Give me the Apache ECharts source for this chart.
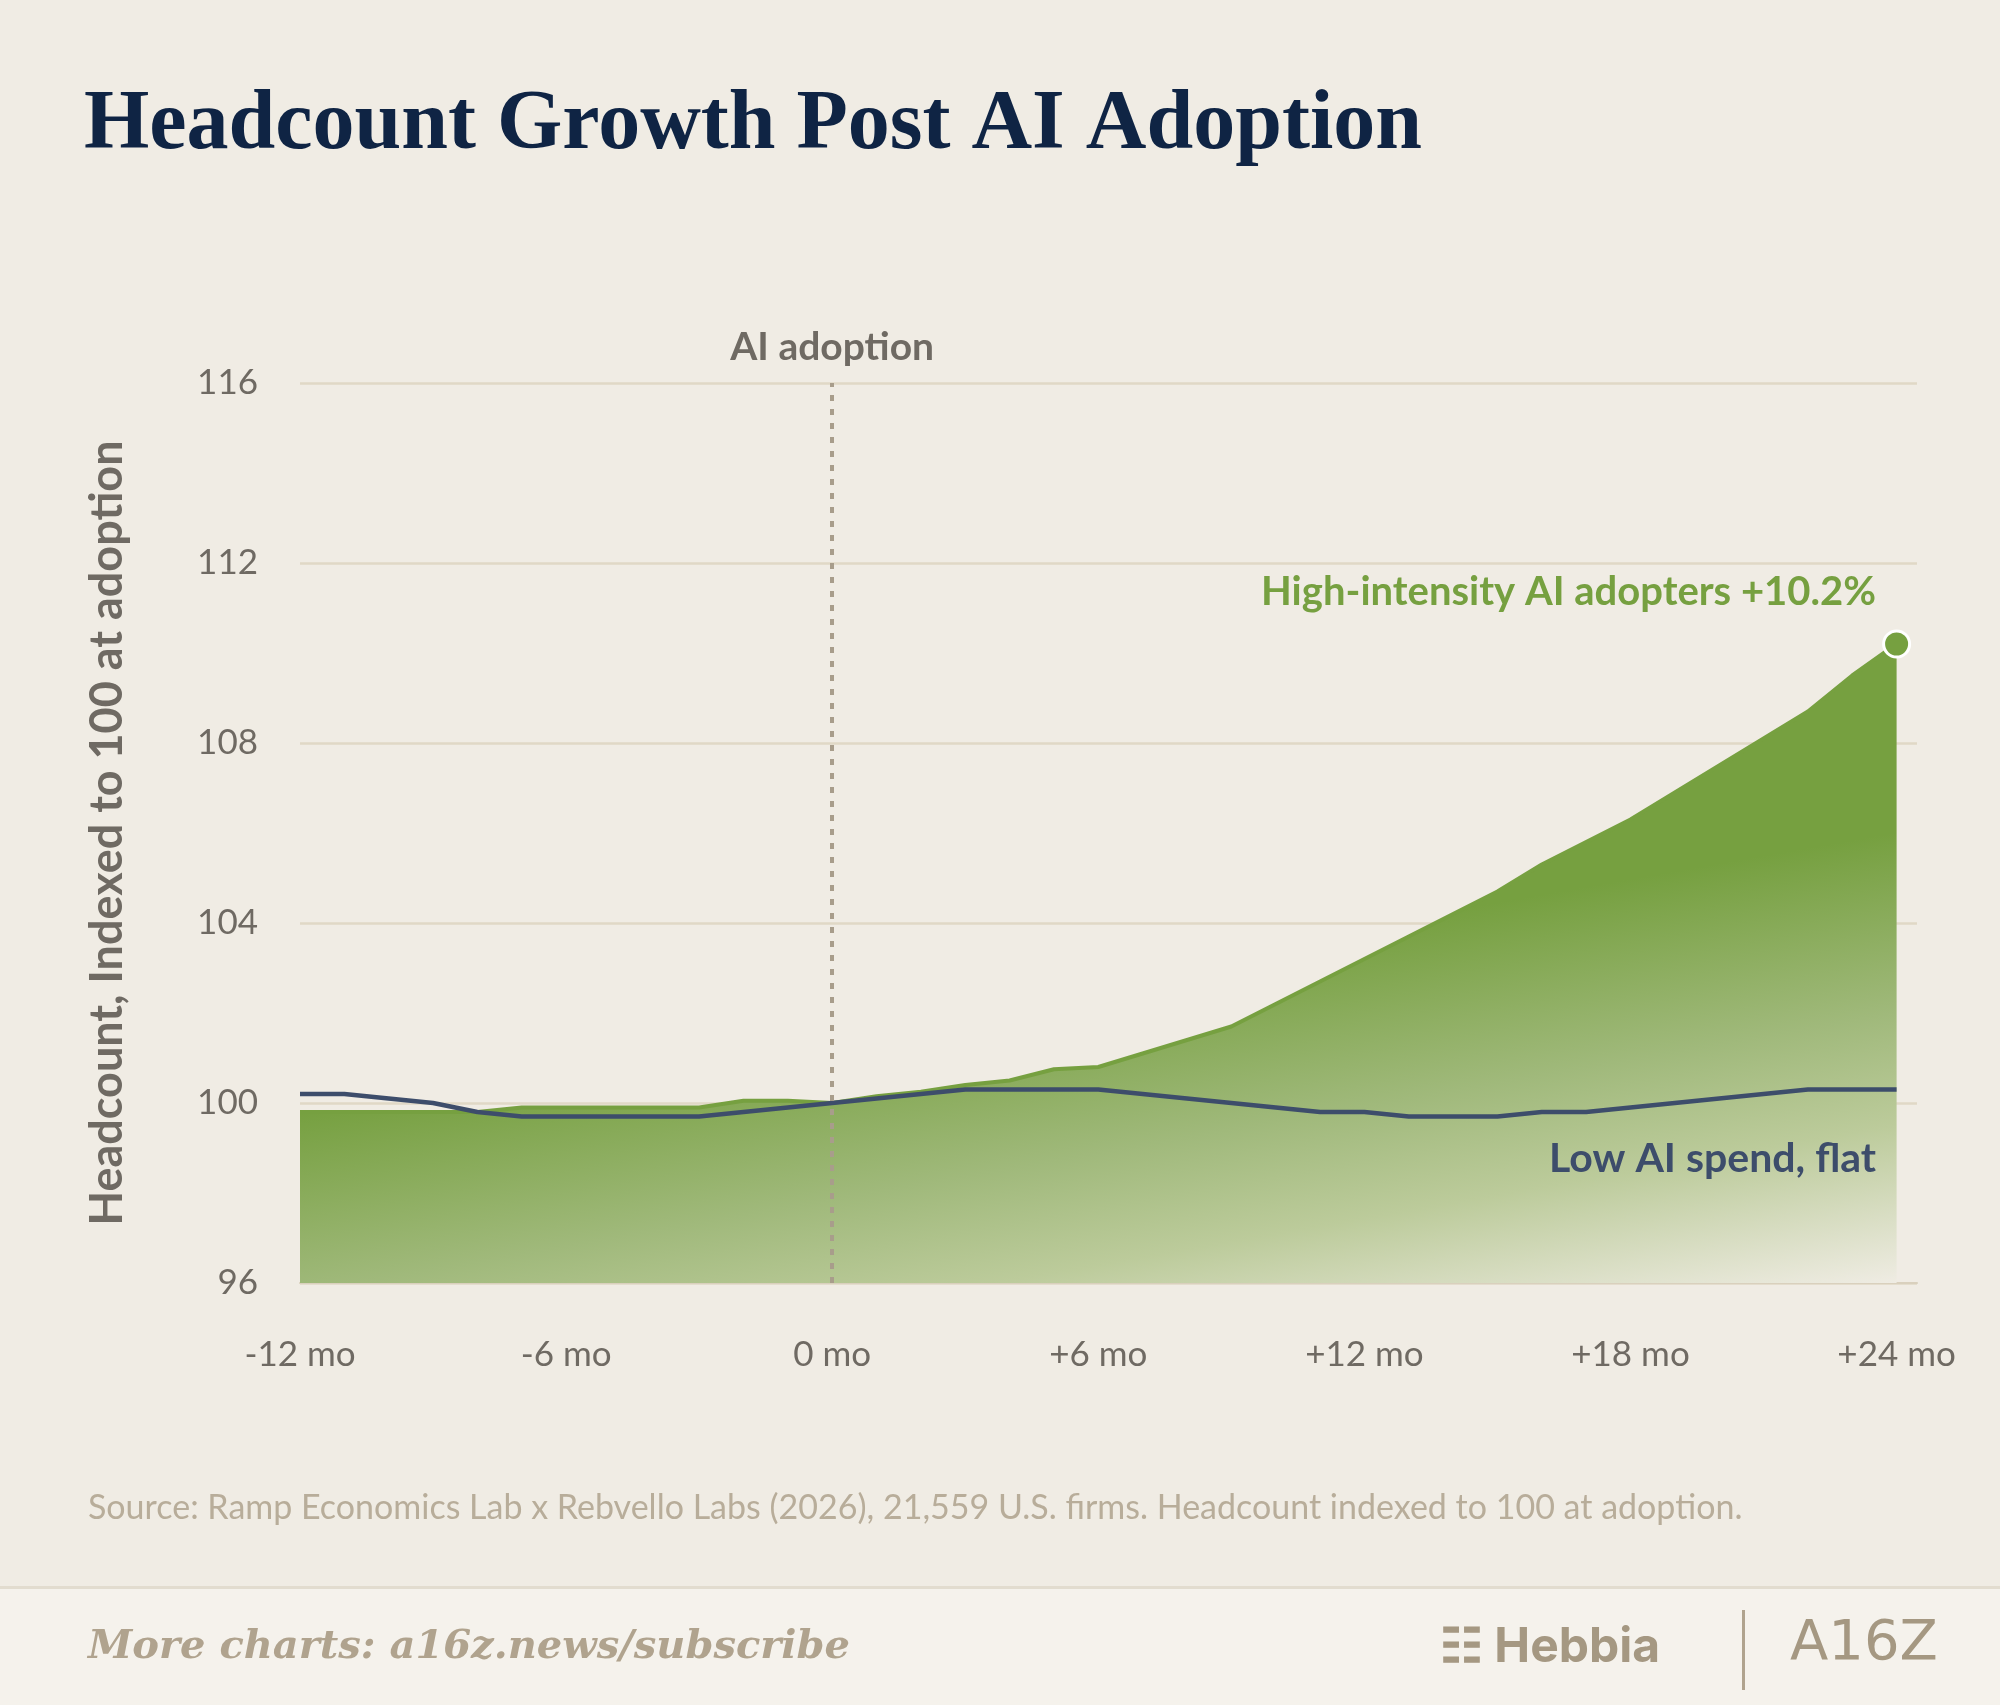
<!DOCTYPE html>
<html><head><meta charset="utf-8">
<script src="https://cdn.jsdelivr.net/npm/echarts@6/dist/echarts.min.js"></script>
<style>html,body{margin:0;background:#f0ece4}#c{width:2000px;height:1705px}</style>
</head><body><div id="c"></div>
<script>
// months relative to adoption
var months = [];
for (var m = -12; m <= 24; m++) months.push(m);
var highAdopters = [99.8,99.8,99.8,99.8,99.8,99.9,99.9,99.9,99.9,99.9,100.05,100.05,100.0,
  100.15,100.25,100.4,100.5,100.75,100.8,101.1,101.4,101.7,102.2,102.7,103.2,103.7,104.2,104.7,
  105.3,105.8,106.3,106.9,107.5,108.1,108.7,109.5,110.2];
var lowSpend = [100.2,100.2,100.1,100.0,99.8,99.7,99.7,99.7,99.7,99.7,99.8,99.9,100.0,
  100.1,100.2,100.3,100.3,100.3,100.3,100.2,100.1,100.0,99.9,99.8,99.8,99.7,99.7,99.7,
  99.8,99.8,99.9,100.0,100.1,100.2,100.3,100.3,100.3];
var yTicks = [96, 100, 104, 108, 112, 116];

function pairs(arr) { return months.map(function (m, i) { return [m, arr[i]]; }); }

var chart = echarts.init(document.getElementById("c"));
var green = "#76a040", navy = "#3d4d6b";

chart.setOption({
  backgroundColor: "#f0ece4",
  animation: false,
  grid: { left: 300, right: 83, top: 383, bottom: 422 },
  xAxis: {
    type: "value", min: -12, max: 24.46, interval: 6,
    axisLine: { show: true, lineStyle: { color: "#d9d0bd", width: 2 } },
    axisTick: { show: false }, splitLine: { show: false },
    axisLabel: {
      margin: 54, fontSize: 35, color: "#6f6a63", fontFamily: "Lato", showMaxLabel: false,
      formatter: function (v) { return v === 0 ? "0 mo" : (v > 0 ? "+" + v : v) + " mo"; }
    }
  },
  yAxis: {
    type: "value", min: yTicks[0], max: yTicks[yTicks.length - 1], interval: 4,
    name: "Headcount, Indexed to 100 at adoption", nameLocation: "middle", nameGap: 170,
    nameTextStyle: { fontSize: 45, fontWeight: "bold", color: "#6f6a63", fontFamily: "Lato" },
    axisLine: { show: false }, axisTick: { show: false },
    splitLine: { lineStyle: { color: "#e0d8c6", width: 2.5 } },
    axisLabel: { margin: 42, fontSize: 35, color: "#6f6a63", fontFamily: "Lato" }
  },
  series: [
    {
      name: "High-intensity AI adopters", type: "line", data: pairs(highAdopters),
      symbol: "none", lineStyle: { color: green, width: 4 },
      areaStyle: {
        opacity: 1,
        color: new echarts.graphic.LinearGradient(0, 0.733, 0.048, 1.417, [
          { offset: 0, color: "#76a040" },
          { offset: 0.4, color: "#a0b97b" },
          { offset: 0.65, color: "#bccb9b" },
          { offset: 1, color: "#efece3" }
        ])
      },
      markLine: {
        symbol: "none", silent: true,
        lineStyle: { color: "#a89d8b", type: [6, 8], width: 4 },
        label: { show: true, position: "end", formatter: "AI adoption", fontSize: 39,
          color: "#6f6a63", fontFamily: "Lato", fontWeight: "bold", distance: 16 },
        data: [{ xAxis: 0 }]
      },
      markPoint: {
        symbol: "circle", symbolSize: 26,
        itemStyle: { color: green, borderColor: "#fff", borderWidth: 3 },
        label: { show: false },
        data: [{ coord: [months[months.length - 1], highAdopters[highAdopters.length - 1]] }]
      },
      z: 2
    },
    {
      name: "Low AI spend", type: "line", data: pairs(lowSpend),
      symbol: "none", lineStyle: { color: navy, width: 4.5 }, z: 3
    }
  ],
  graphic: [
    { type: "text", left: 84, top: 84, style: { text: "Headcount Growth Post AI Adoption",
      font: "bold 84px 'Liberation Serif'", fill: "#0f2444" } },
    { type: "text", right: 124, top: 572, z: 100, style: { text: "High-intensity AI adopters +10.2%",
      font: "bold 40px Lato", fill: green } },
    { type: "text", right: 124, top: 1138, z: 100, style: { text: "Low AI spend, flat",
      font: "bold 41px Lato", fill: navy } },
    { type: "text", left: 88, top: 1491, style: {
      text: "Source: Ramp Economics Lab x Rebvello Labs (2026), 21,559 U.S. firms. Headcount indexed to 100 at adoption.",
      font: "34px Lato", fill: "#b8ad9a" } },
    { type: "rect", shape: { x: 0, y: 1586, width: 2000, height: 119 }, style: { fill: "#f5f2ec" } },
    { type: "rect", shape: { x: 0, y: 1586, width: 2000, height: 3 }, style: { fill: "#e2dccf" } },
    { type: "text", left: 88, top: 1628, style: { text: "More charts: a16z.news/subscribe",
      font: "italic bold 40px 'DejaVu Serif'", fill: "#b0a38e" } },
    { type: "text", left: 1440, top: 1624, style: { text: "\u2637 Hebbia",
      font: "bold 48px Inter", fill: "#a59882" } },
    { type: "rect", shape: { x: 1742, y: 1610, width: 3, height: 80 }, style: { fill: "#b0a38e" } },
    { type: "text", left: 1790, top: 1616, style: { text: "A16Z",
      font: "56px 'DejaVu Sans'", fill: "#a59882" } }
  ]
});
</script></body></html>
